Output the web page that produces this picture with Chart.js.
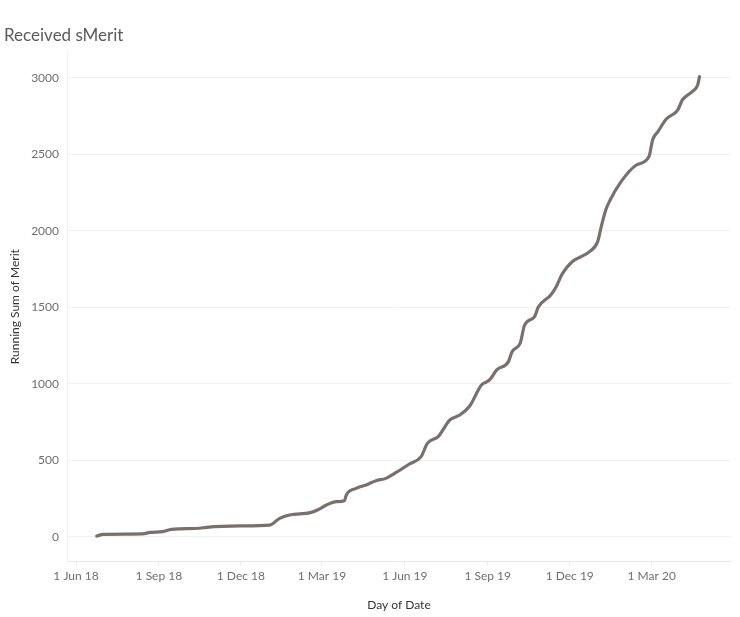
<!DOCTYPE html>
<html>
<head>
<meta charset="utf-8">
<script src="https://cdn.jsdelivr.net/npm/chart.js@4"></script>
<style>
  html, body { margin: 0; padding: 0; background: #ffffff; }
  #wrap { width: 740px; height: 617px; }
</style>
</head>
<body>
<div id="wrap"><canvas id="c" width="740" height="617"></canvas></div>
<script>
// ---- data ----
const chartTitle = 'Received sMerit';
const xAxisTitle = 'Day of Date';
const yAxisTitle = 'Running Sum of Merit';

const dates = [
  '2018-06-24','2018-07-01','2018-08-14','2018-08-22','2018-09-05','2018-09-15',
  '2018-10-16','2018-10-24','2018-11-30','2019-01-02','2019-01-13','2019-01-24',
  '2019-02-16','2019-02-24','2019-03-06','2019-03-17','2019-03-26','2019-03-28',
  '2019-04-08','2019-04-19','2019-04-30','2019-05-11','2019-05-22','2019-06-06',
  '2019-06-19','2019-06-26','2019-07-08','2019-07-21','2019-08-01','2019-08-12',
  '2019-08-25','2019-09-03','2019-09-11','2019-09-24','2019-09-28','2019-10-07',
  '2019-10-12','2019-10-23','2019-10-27','2019-11-10','2019-11-16','2019-11-23',
  '2019-12-04','2019-12-23','2020-01-01','2020-01-05','2020-01-10','2020-01-14',
  '2020-01-27','2020-02-13','2020-02-27','2020-03-02','2020-03-08','2020-03-17',
  '2020-03-30','2020-04-04','2020-04-15','2020-04-21','2020-04-23'
];
const runningSum = [
  6, 17, 20, 30, 35, 50,
  57, 63, 72, 78, 122, 144,
  159, 176, 209, 231, 237, 275,
  318, 340, 368, 383, 420, 477,
  525, 612, 656, 765, 797, 856,
  993, 1026, 1092, 1146, 1211, 1266,
  1386, 1440, 1501, 1582, 1636, 1723,
  1800, 1865, 1930, 2028, 2137, 2192,
  2322, 2431, 2486, 2595, 2650, 2730,
  2791, 2856, 2911, 2954, 3009
];
const xTickDates = ['2018-06-01','2018-09-01','2018-12-01','2019-03-01','2019-06-01','2019-09-01','2019-12-01','2020-03-01'];
const xTickLabels = ['1 Jun 18','1 Sep 18','1 Dec 18','1 Mar 19','1 Jun 19','1 Sep 19','1 Dec 19','1 Mar 20'];
const yTicks = [0, 500, 1000, 1500, 2000, 2500, 3000];

// ---- helpers ----
const base = Date.UTC(2018, 5, 1);
function dayOf(s) {
  const p = s.split('-').map(Number);
  return Math.round((Date.UTC(p[0], p[1] - 1, p[2]) - base) / 86400000);
}
const points = dates.map((d, i) => ({ x: dayOf(d), y: runningSum[i] }));
const tickDays = xTickDates.map(dayOf);

const FONT = 'Lato, "Open Sans", sans-serif';

new Chart(document.getElementById('c'), {
  type: 'line',
  data: {
    datasets: [{
      data: points,
      borderColor: '#79706e',
      borderWidth: 3.2,
      pointRadius: 0,
      cubicInterpolationMode: 'monotone',
      borderJoinStyle: 'round',
      borderCapStyle: 'round',
      fill: false
    }]
  },
  options: {
    responsive: false,
    animation: false,
    devicePixelRatio: 1,
    layout: { padding: { left: 4, right: 9, top: 0, bottom: 0 } },
    plugins: {
      legend: { display: false },
      tooltip: { enabled: false },
      title: {
        display: true,
        text: chartTitle,
        align: 'start',
        color: '#5a5a5a',
        font: { family: FONT, size: 17, weight: 'normal' },
        padding: { top: 25, bottom: 7 }
      }
    },
    scales: {
      x: {
        type: 'linear',
        min: -10,
        max: 727,
        afterBuildTicks: (s) => { s.ticks = tickDays.map(v => ({ value: v })); },
        afterFit: (s) => { s.height = 56; },
        ticks: {
          autoSkip: false,
          maxRotation: 0,
          color: '#6f6f6f',
          font: { family: FONT, size: 12 },
          padding: 4,
          callback: (v) => { const i = tickDays.indexOf(v); return i >= 0 ? xTickLabels[i] : ''; }
        },
        grid: { drawOnChartArea: false, drawTicks: true, tickLength: 4, color: '#e6e6e6' },
        border: { display: true, color: '#e8e8e8', width: 1 },
        title: {
          display: true,
          text: xAxisTitle,
          color: '#333333',
          font: { family: FONT, size: 12 },
          padding: { top: 0, bottom: 5 }
        }
      },
      y: {
        type: 'linear',
        min: -157,
        max: 3167,
        afterBuildTicks: (s) => { s.ticks = yTicks.map(v => ({ value: v })); },
        afterFit: (s) => { s.width = 63; },
        ticks: {
          color: '#6f6f6f',
          font: { family: FONT, size: 12 },
          padding: 8,
          callback: (v) => String(v)
        },
        grid: { drawTicks: false, color: '#f0f0f0', lineWidth: 1 },
        border: { display: true, color: '#f0f0f0', width: 1 },
        title: {
          display: true,
          text: yAxisTitle,
          color: '#333333',
          font: { family: FONT, size: 12 },
          padding: { top: 4, bottom: 0 }
        }
      }
    }
  }
});
</script>
</body>
</html>
